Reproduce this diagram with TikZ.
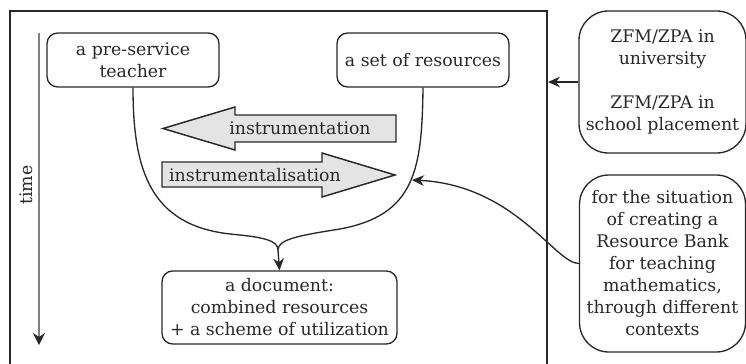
\documentclass[tikz,border=0pt]{standalone}
\usepackage{fontspec}
\setmainfont{DejaVu Serif}
\usetikzlibrary{arrows.meta}
\definecolor{inkgray}{RGB}{40,40,40}
\definecolor{shaftfill}{RGB}{228,228,228}
\tikzset{every picture/.style={line width=0.75pt}}
\tikzset{
  roundbox/.style={draw=inkgray, line width=1pt, rounded corners=8pt, align=center, inner sep=2pt},
  sidebox/.style={roundbox, rounded corners=22pt},
  blockarrow/.style={draw=inkgray, fill=shaftfill, line width=1.1pt},
  flow/.style={draw=inkgray, line width=1pt, -{Stealth[length=9pt,width=8pt]}},
}

\begin{document}
\begin{tikzpicture}[x=0.75pt,y=0.75pt,yscale=-1,xscale=1,text=inkgray,font=\fontsize{13}{16.5}\selectfont]
\useasboundingbox (0,0) rectangle (746,364);
\clip (0,0) rectangle (746,364);

%Shape: Frame (open at the bottom)
\draw [line width=1.3pt, draw=inkgray] (10,380) -- (10,11) -- (547,11) -- (547,380);

%Straight Lines: time axis
\coordinate (tstart) at (39,33);
\coordinate (tend) at (39,345);
\draw [gray, line width=1pt, -{Stealth[length=9pt,width=9pt,color=inkgray]}] (tstart) -- (tend);
% Text Node
\node [rotate=90] (time) at (26,185) {time};

% Text Node: actors
\node [roundbox, minimum width=129pt, minimum height=40.5pt] (teacher) at (133,60) {a pre-service\\teacher};
\node [roundbox, minimum width=129pt, minimum height=40.5pt] (resources) at (423,60) {a set of resources};
\node [roundbox, minimum width=176.25pt, minimum height=54.75pt] (document) at (279.5,307.5) {a document:\\combined resources\\+ a scheme of utilization};

% Text Node: context boxes
\node [sidebox, minimum width=125.25pt, minimum height=106.5pt] (zfm) at (662.5,82) {ZFM/ZPA in\\university\\[16.5pt]ZFM/ZPA in\\school placement};
\node [sidebox, minimum width=124.5pt, minimum height=132.75pt] (situation) at (662.5,263.5) {for the situation\\of creating a\\Resource Bank\\for teaching\\mathematics,\\through different\\contexts};

%Shape: Left Arrow
\draw [blockarrow] (163,128.5) -- (235,107) -- (235,115) -- (396,115) -- (396,142) -- (235,142) -- (235,150) -- cycle;
\node (instrumentation) at (300,128) {instrumentation};

%Shape: Right Arrow
\draw [blockarrow] (162,162) -- (322,162) -- (322,153) -- (395,175) -- (322,197) -- (322,187) -- (162,187) -- cycle;
\node (instrumentalisation) at (255,175) {instrumentalisation};

%Curve Lines: teacher and resources join
\coordinate (merge) at (278,250);
\coordinate (hook) at (412,180);
\draw [inkgray, line width=1pt] (teacher.south) .. controls (133,170) and (150,225) .. (230,234) .. controls (262,237) and (278,240) .. (merge);
\draw [inkgray, line width=1pt] (resources.south) .. controls (422,170) and (415,215) .. (340,229) .. controls (295,236) and (278,240) .. (merge);
\draw [flow] (merge) -- (document.north);

%Curve Lines: contexts feeding in
\coordinate (inlet) at (548,82);
\draw [flow] (zfm.west) -- (inlet);
\draw [flow] (situation.west) .. controls (555,263.5) and (515,185) .. (hook);

\end{tikzpicture}
\end{document}
